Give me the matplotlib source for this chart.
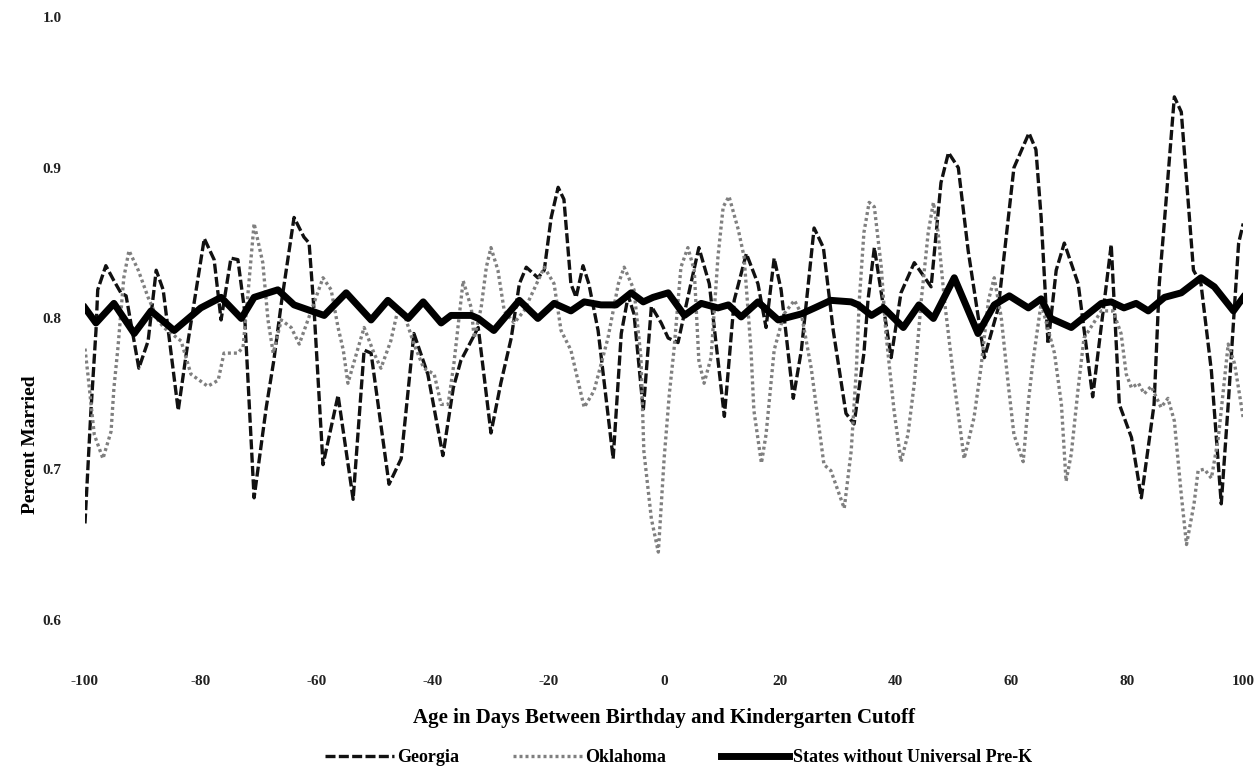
import matplotlib
matplotlib.use('Agg')
import matplotlib.pyplot as plt

plt.rcParams['font.family'] = ['Liberation Serif', 'DejaVu Serif']

# Georgia (black dashed)
georgia_x = [-100, -99.0, -98.1, -97.8, -96.4, -95.0, -93.8, -92.9, -90.7, -89.1,
             -87.7, -86.5, -83.9, -82.2, -79.4, -77.7, -76.5, -74.8, -73.6, -72.5,
             -70.8, -68.7, -67.4, -66.1, -63.9, -62.2, -61.3, -60.4, -58.9, -56.3,
             -53.7, -51.8, -50.6, -47.5, -45.4, -43.2, -40.8, -38.2, -36.4, -35.1,
             -32.1, -29.9, -28.2, -26.4, -25.0, -23.8, -21.8, -20.7, -19.5, -18.3,
             -17.3, -16.1, -15.2, -14.0, -13.0, -11.4, -8.8, -7.4, -6.2, -5.2,
             -3.6, -2.2, -0.5, 0.7, 2.4, 4.1, 6.0, 7.8, 10.4, 12.1,
             14.2, 16.2, 17.6, 19.0, 20.2, 22.3, 23.7, 25.9, 27.5, 29.2,
             31.4, 32.8, 34.5, 35.2, 36.3, 37.5, 39.2, 40.9, 43.2, 46.1,
             47.8, 49.1, 50.8, 52.5, 55.3, 57.7, 60.4, 63.0, 64.2, 65.1,
             66.3, 67.7, 69.1, 71.5, 74.0, 77.2, 78.6, 80.7, 82.4, 84.6,
             85.5, 86.4, 88.1, 89.3, 91.4, 92.7, 94.5, 96.2, 97.4, 98.3,
             99.2, 100]
georgia_y = [0.664, 0.737, 0.792, 0.819, 0.835, 0.825, 0.817, 0.815, 0.767, 0.785,
             0.832, 0.819, 0.739, 0.785, 0.853, 0.839, 0.799, 0.840, 0.839, 0.807,
             0.681, 0.741, 0.772, 0.810, 0.867, 0.854, 0.850, 0.803, 0.703, 0.749,
             0.680, 0.779, 0.777, 0.690, 0.707, 0.790, 0.763, 0.709, 0.754, 0.772,
             0.794, 0.724, 0.757, 0.787, 0.823, 0.834, 0.827, 0.832, 0.867, 0.887,
             0.879, 0.823, 0.814, 0.835, 0.823, 0.792, 0.707, 0.790, 0.815, 0.803,
             0.739, 0.808, 0.797, 0.787, 0.784, 0.814, 0.847, 0.823, 0.735, 0.812,
             0.843, 0.823, 0.794, 0.840, 0.819, 0.747, 0.779, 0.860, 0.847, 0.792,
             0.737, 0.730, 0.777, 0.812, 0.847, 0.817, 0.774, 0.817, 0.837, 0.821,
             0.890, 0.910, 0.900, 0.845, 0.774, 0.807, 0.900, 0.923, 0.912, 0.867,
             0.783, 0.832, 0.850, 0.823, 0.748, 0.849, 0.743, 0.721, 0.681, 0.743,
             0.823, 0.865, 0.947, 0.937, 0.832, 0.823, 0.765, 0.677, 0.743, 0.797,
             0.850, 0.863]

# Oklahoma (grey dotted)
oklahoma_x = [-100, -99.5, -98.4, -96.9, -95.5, -95.0, -94.3, -93.3, -92.4, -90.8,
              -89.1, -87.4, -86.4, -83.4, -81.7, -78.8, -77.0, -76.0, -73.6, -72.7,
              -71.8, -70.8, -69.3, -68.4, -67.5, -66.1, -64.4, -63.0, -61.5, -58.9,
              -57.5, -56.3, -55.4, -54.6, -52.8, -51.8, -50.1, -48.9, -47.2, -45.9,
              -44.9, -43.2, -41.5, -39.7, -38.5, -37.3, -36.3, -34.7, -33.3, -32.8,
              -31.6, -30.7, -29.9, -28.7, -27.6, -25.9, -24.2, -22.5, -20.7, -19.0,
              -17.8, -16.1, -13.8, -12.1, -9.7, -7.9, -6.9, -5.2, -4.0, -3.5,
              -2.2, -1.0, 0.0, 0.9, 1.7, 2.9, 4.1, 5.2, 6.0, 6.9,
              8.1, 9.3, 10.2, 11.2, 12.8, 13.8, 15.0, 15.5, 16.8, 17.6,
              19.0, 20.7, 22.5, 23.7, 25.4, 27.6, 28.8, 31.1, 32.3, 33.2,
              33.7, 34.5, 35.4, 36.3, 37.5, 38.3, 39.7, 40.9, 42.1, 43.2,
              44.4, 45.6, 46.5, 47.3, 48.4, 50.1, 51.8, 53.5, 54.7, 56.0,
              57.0, 58.2, 59.4, 60.4, 62.0, 62.9, 63.7, 65.1, 67.4, 68.6,
              69.4, 70.3, 71.5, 72.5, 75.5, 77.5, 78.9, 79.8, 80.7, 81.9,
              82.9, 84.1, 85.8, 87.0, 88.1, 89.3, 90.2, 91.5, 92.2, 93.3,
              94.5, 95.7, 97.4, 98.5, 100]
oklahoma_y = [0.780, 0.763, 0.723, 0.707, 0.725, 0.754, 0.781, 0.827, 0.845, 0.832,
              0.814, 0.799, 0.794, 0.785, 0.763, 0.755, 0.759, 0.777, 0.777, 0.781,
              0.819, 0.863, 0.837, 0.799, 0.777, 0.799, 0.794, 0.783, 0.799, 0.827,
              0.819, 0.794, 0.779, 0.757, 0.781, 0.794, 0.777, 0.767, 0.785, 0.807,
              0.803, 0.783, 0.767, 0.763, 0.743, 0.743, 0.770, 0.825, 0.807, 0.787,
              0.807, 0.834, 0.847, 0.832, 0.805, 0.797, 0.805, 0.819, 0.834, 0.823,
              0.792, 0.779, 0.741, 0.752, 0.787, 0.823, 0.834, 0.819, 0.774, 0.712,
              0.667, 0.645, 0.707, 0.750, 0.779, 0.834, 0.847, 0.832, 0.772, 0.757,
              0.774, 0.841, 0.874, 0.881, 0.859, 0.841, 0.779, 0.739, 0.704, 0.723,
              0.779, 0.803, 0.812, 0.803, 0.767, 0.703, 0.699, 0.674, 0.712, 0.767,
              0.812, 0.857, 0.877, 0.874, 0.834, 0.790, 0.739, 0.705, 0.723, 0.757,
              0.812, 0.857, 0.877, 0.857, 0.812, 0.757, 0.707, 0.734, 0.767, 0.812,
              0.827, 0.801, 0.757, 0.723, 0.705, 0.745, 0.772, 0.810, 0.777, 0.743,
              0.692, 0.710, 0.754, 0.787, 0.805, 0.805, 0.790, 0.763, 0.754, 0.757,
              0.750, 0.755, 0.741, 0.747, 0.732, 0.683, 0.650, 0.677, 0.699, 0.700,
              0.694, 0.721, 0.783, 0.770, 0.734]

# States without universal pre-K (thick black)
states_x = [-100, -98.1, -95.0, -91.5, -88.6, -84.6, -80.0, -76.5, -73.0, -70.8,
            -66.7, -63.9, -58.7, -54.9, -50.6, -47.7, -44.2, -41.6, -38.5, -36.8,
            -33.3, -32.1, -29.4, -25.0, -21.8, -19.0, -16.1, -13.8, -10.9, -8.3,
            -5.7, -3.6, -1.9, 0.7, 3.5, 6.4, 9.3, 11.1, 13.3, 16.2,
            19.7, 23.7, 26.0, 28.8, 32.3, 33.5, 35.8, 37.9, 41.3, 44.0,
            46.5, 50.1, 54.2, 57.0, 59.6, 62.9, 65.1, 66.8, 70.3, 75.5,
            77.2, 79.4, 81.5, 83.6, 86.4, 89.3, 92.7, 95.0, 98.3, 100]
states_y = [0.807, 0.797, 0.810, 0.790, 0.805, 0.792, 0.807, 0.814, 0.800, 0.814,
            0.819, 0.809, 0.802, 0.817, 0.799, 0.812, 0.800, 0.811, 0.797, 0.802,
            0.802, 0.800, 0.792, 0.812, 0.800, 0.810, 0.805, 0.811, 0.809, 0.809,
            0.817, 0.811, 0.814, 0.817, 0.802, 0.810, 0.807, 0.809, 0.801, 0.811,
            0.799, 0.803, 0.807, 0.812, 0.811, 0.809, 0.802, 0.807, 0.794, 0.809,
            0.800, 0.827, 0.790, 0.809, 0.815, 0.807, 0.813, 0.800, 0.794, 0.810,
            0.811, 0.807, 0.810, 0.805, 0.814, 0.817, 0.827, 0.821, 0.805, 0.814]

x_ticks = [-100, -80, -60, -40, -20, 0, 20, 40, 60, 80, 100]
y_ticks = [0.6, 0.7, 0.8, 0.9, 1.0]

fig = plt.figure(figsize=(12.59, 7.72), dpi=100)
ax = fig.add_axes([0.0675, 0.197, 0.92, 0.781])

ax.plot(georgia_x, georgia_y, color='#111111', lw=2.4, dashes=(3.0, 1.0), label='Georgia')
ax.plot(oklahoma_x, oklahoma_y, color='#7f7f7f', lw=2.4, dashes=(0.9, 0.9), label='Oklahoma')
ax.plot(states_x, states_y, color='black', lw=5, solid_joinstyle='round',
        label='States without Universal Pre-K')

ax.set_xlim(-100, 100)
ax.set_ylim(0.6, 1.0)
ax.set_xticks(x_ticks)
ax.set_xticklabels([str(t) for t in x_ticks])
ax.set_yticks(y_ticks)
ax.set_yticklabels(['%.1f' % t for t in y_ticks])
for s in ax.spines.values():
    s.set_visible(False)
ax.tick_params(axis='x', length=0, pad=40, labelsize=11, labelcolor='#222222')
ax.tick_params(axis='y', length=0, pad=17, labelsize=11, labelcolor='#222222')
for lab in ax.get_xticklabels() + ax.get_yticklabels():
    lab.set_fontweight('bold')

ax.set_xlabel('Age in Days Between Birthday and Kindergarten Cutoff', fontsize=15, fontweight='bold')
ax.xaxis.set_label_coords(0.5, -0.146)
ax.set_ylabel('Percent Married', fontsize=14, fontweight='bold')
ax.yaxis.set_label_coords(-0.04, 0.29)

handles, labels = ax.get_legend_handles_labels()
fig.legend(handles, labels, loc='center left', bbox_to_anchor=(325 / 1259, 14 / 772), ncol=3,
           frameon=False, handlelength=3.8, handletextpad=0.2, columnspacing=3.0,
           borderpad=0, borderaxespad=0, prop={'weight': 'bold', 'size': 13})

fig.savefig('out.png', dpi=100)
